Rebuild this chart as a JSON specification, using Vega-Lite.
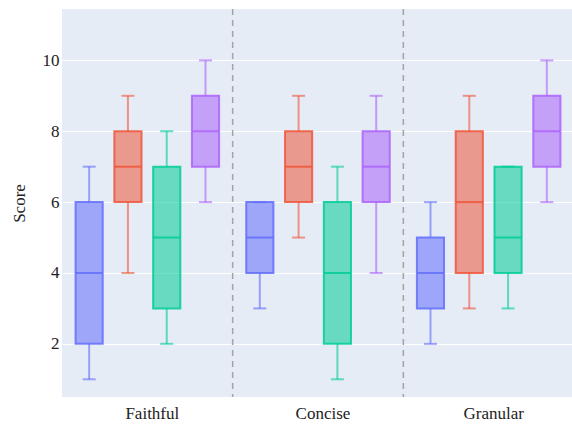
{
  "$schema": "https://vega.github.io/schema/vega-lite/v6.json",
  "width": 512,
  "height": 388,
  "autosize": "none",
  "padding": {"left": 62, "top": 9, "right": 0, "bottom": 28},
  "background": "white",
  "config": {
    "view": {"fill": "#E5ECF6", "stroke": null},
    "font": "Times New Roman"
  },
  "datasets": {
    "boxes": [
      {"group": "Faithful", "series": "Model 1", "min": 1, "q1": 2, "median": 4, "q3": 6, "max": 7},
      {"group": "Faithful", "series": "Model 2", "min": 4, "q1": 6, "median": 7, "q3": 8, "max": 9},
      {"group": "Faithful", "series": "Model 3", "min": 2, "q1": 3, "median": 5, "q3": 7, "max": 8},
      {"group": "Faithful", "series": "Model 4", "min": 6, "q1": 7, "median": 8, "q3": 9, "max": 10},
      {"group": "Concise", "series": "Model 1", "min": 3, "q1": 4, "median": 5, "q3": 6, "max": 6},
      {"group": "Concise", "series": "Model 2", "min": 5, "q1": 6, "median": 7, "q3": 8, "max": 9},
      {"group": "Concise", "series": "Model 3", "min": 1, "q1": 2, "median": 4, "q3": 6, "max": 7},
      {"group": "Concise", "series": "Model 4", "min": 4, "q1": 6, "median": 7, "q3": 8, "max": 9},
      {"group": "Granular", "series": "Model 1", "min": 2, "q1": 3, "median": 4, "q3": 5, "max": 6},
      {"group": "Granular", "series": "Model 2", "min": 3, "q1": 4, "median": 6, "q3": 8, "max": 9},
      {"group": "Granular", "series": "Model 3", "min": 3, "q1": 4, "median": 5, "q3": 7, "max": 7},
      {"group": "Granular", "series": "Model 4", "min": 6, "q1": 7, "median": 8, "q3": 9, "max": 10}
    ],
    "seps": [{"group": "Concise"}, {"group": "Granular"}]
  },
  "encoding": {
    "x": {"field": "group", "type": "nominal", "sort": null,
          "scale": {"domain": ["Faithful", "Concise", "Granular"], "paddingInner": 0, "paddingOuter": 0},
          "axis": {"title": null, "labelFont": "Liberation Serif", "labelFontSize": 17, "labelColor": "#222", "labelPadding": 8, "labelOffset": 5, "ticks": false, "domain": false, "grid": false, "labelAngle": 0}}
  },
  "layer": [
    {
      "data": {"name": "seps"},
      "mark": {"type": "rule", "color": "#a3a3a3", "strokeDash": [6, 5], "strokeWidth": 1.5},
      "encoding": {
        "x": {"field": "group", "type": "nominal", "bandPosition": 0, "sort": null}
      }
    },
    {
      "data": {"name": "boxes"},
      "encoding": {
        "xOffset": {"field": "series", "type": "nominal",
                    "scale": {"domain": ["Model 1", "Model 2", "Model 3", "Model 4"], "paddingInner": 0.3, "paddingOuter": 0.35}},
        "color": {"field": "series", "type": "nominal", "legend": null,
                  "scale": {"domain": ["Model 1", "Model 2", "Model 3", "Model 4"], "range": ["#636EFA", "#EF553B", "#00CC96", "#AB63FA"]}}
      },
      "layer": [
        {
          "mark": {"type": "rule", "strokeWidth": 2, "opacity": 0.6},
          "encoding": {
            "y": {"field": "min", "type": "quantitative",
                  "scale": {"domain": [0.5, 11.45], "nice": false, "zero": false},
                  "axis": {"title": "Score", "titleFont": "Liberation Serif", "titleFontSize": 17, "titleFontWeight": "normal", "titleColor": "#222", "titlePadding": 14,
                           "values": [2, 4, 6, 8, 10], "labelFont": "Liberation Serif", "labelFontSize": 17, "labelColor": "#222", "labelPadding": 3,
                           "ticks": false, "domain": false, "grid": true, "gridColor": "white", "gridWidth": 1}},
            "y2": {"field": "q1"}
          }
        },
        {
          "mark": {"type": "rule", "strokeWidth": 2, "opacity": 0.6},
          "encoding": {
            "y": {"field": "q3", "type": "quantitative"},
            "y2": {"field": "max"}
          }
        },
        {
          "mark": {"type": "bar", "fillOpacity": 0.55, "strokeWidth": 2, "strokeOpacity": 0.85},
          "encoding": {
            "y": {"field": "q1", "type": "quantitative"},
            "y2": {"field": "q3"},
            "stroke": {"field": "series", "type": "nominal", "legend": null,
                       "scale": {"domain": ["Model 1", "Model 2", "Model 3", "Model 4"], "range": ["#636EFA", "#EF553B", "#00CC96", "#AB63FA"]}}
          }
        },
        {
          "mark": {"type": "tick", "size": 27, "thickness": 2, "opacity": 0.85},
          "encoding": {"y": {"field": "median", "type": "quantitative"}}
        },
        {
          "mark": {"type": "tick", "size": 13, "thickness": 2, "opacity": 0.6},
          "encoding": {"y": {"field": "min", "type": "quantitative"}}
        },
        {
          "mark": {"type": "tick", "size": 13, "thickness": 2, "opacity": 0.6},
          "encoding": {"y": {"field": "max", "type": "quantitative"}}
        }
      ]
    }
  ]
}
